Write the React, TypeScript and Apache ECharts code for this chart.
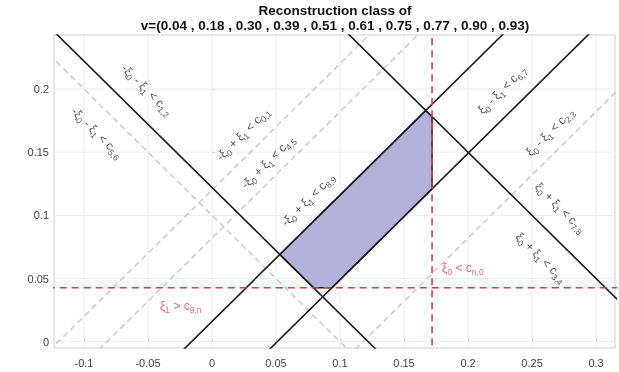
import React, { useEffect, useRef } from "react";
import * as echarts from "echarts";

// reconstruction vector shown in the title
const vValues = [0.04, 0.18, 0.3, 0.39, 0.51, 0.61, 0.75, 0.77, 0.9, 0.93];

// axis ranges and tick labels
const xRange = [-0.1234, 0.3148];
const yRange = [-0.005, 0.2427];
const xTicks = [-0.1, -0.05, 0, 0.05, 0.1, 0.15, 0.2, 0.25, 0.3];
const yTicks = [0, 0.05, 0.1, 0.15, 0.2];

// boundary lines: xi0 + xi1 = c  (descending)  and  xi1 - xi0 = c (ascending)
const blackSumC = [0.122, 0.35];
const blackDiffC = [0.016, -0.051];
const graySumC = [0.1];
const grayDiffC = [0.12, 0.082, -0.118];

// red thresholds
const cN0 = 0.1719; // xi0 < c_{n,0}
const c9N = 0.0427; // xi1 > c_{9,n}

// annotation texts (formatter) and anchors in data coords
const lineLabelTexts = [
  "-{t|ξ}{s|0} - {t|ξ}{s|1} < c{s|1,2}",
  "-{t|ξ}{s|0} - {t|ξ}{s|1} < c{s|5,6}",
  "-{t|ξ}{s|0} + {t|ξ}{s|1} < c{s|0,1}",
  "-{t|ξ}{s|0} + {t|ξ}{s|1} < c{s|4,5}",
  "-{t|ξ}{s|0} + {t|ξ}{s|1} < c{s|8,9}",
  "{t|ξ}{s|0} - {t|ξ}{s|1} < c{s|6,7}",
  "{t|ξ}{s|0} - {t|ξ}{s|1} < c{s|2,3}",
  "{t|ξ}{s|0} + {t|ξ}{s|1} < c{s|7,8}",
  "{t|ξ}{s|0} + {t|ξ}{s|1} < c{s|3,4}",
];
const lineLabelAnchors = [
  [-0.0508, 0.1992],
  [-0.0898, 0.1652],
  [0.0242, 0.1644],
  [0.0438, 0.1423],
  [0.075, 0.1123],
  [0.2266, 0.1992],
  [0.264, 0.166],
  [0.272, 0.106],
  [0.257, 0.0664],
];
const lineLabelRot = [-45, -45, 45, 45, 45, 45, 45, -45, -45];

const redLabelTexts = ["{t|ξ}{s|0} < c{s|n,0}", "{t|ξ}{s|1} > c{s|9,n}"];
const redLabelAnchors = [
  [0.1797, 0.0585],
  [-0.0406, 0.0285],
];

function sumLine(c: number) {
  return [
    [-1, c + 1],
    [1, c - 1],
  ];
}
function diffLine(c: number) {
  return [
    [-1, c - 1],
    [1, c + 1],
  ];
}

export default function App() {
  const ref = useRef<HTMLDivElement>(null);
  useEffect(() => {
    const chart = echarts.init(ref.current!, null, { renderer: "svg" });

    // polygon of the reconstruction class, from line intersections
    const sLo = blackSumC[0];
    const sHi = blackSumC[1];
    const dHi = blackDiffC[0];
    const dLo = blackDiffC[1];
    const poly = [
      [(sLo - dHi) / 2, (sLo + dHi) / 2],
      [sLo - c9N, c9N],
      [c9N - dLo, c9N],
      [cN0, cN0 + dLo],
      [cN0, sHi - cN0],
      [(sHi - dHi) / 2, (sHi + dHi) / 2],
    ];

    const lineSeries = (data: number[][], color: string, dash: any, z: number) => ({
      type: "line",
      data,
      showSymbol: false,
      symbol: "none",
      silent: true,
      clip: true,
      z,
      animation: false,
      lineStyle: { color, width: 1.6, type: dash },
    });

    const rich = {
      t: { fontSize: 12, lineHeight: 17, fontFamily: "Liberation Sans" },
      s: { fontSize: 8.5, lineHeight: 9, verticalAlign: "bottom", fontFamily: "Liberation Sans" },
    };

    const series: any[] = [];
    // grid lines (behind everything)
    series.push({
      type: "custom",
      silent: true,
      z: 1,
      clip: true,
      data: xTicks.map((v) => [v, 0]),
      renderItem: (_p: any, api: any) => {
        const a = api.coord([api.value(0), yRange[0]]);
        const b = api.coord([api.value(0), yRange[1]]);
        return {
          type: "line",
          shape: { x1: a[0], y1: a[1], x2: b[0], y2: b[1] },
          style: { stroke: "#ececec", lineWidth: 1 },
        };
      },
    });
    series.push({
      type: "custom",
      silent: true,
      z: 1,
      clip: true,
      data: yTicks.map((v) => [0, v]),
      renderItem: (_p: any, api: any) => {
        const a = api.coord([xRange[0], api.value(1)]);
        const b = api.coord([xRange[1], api.value(1)]);
        return {
          type: "line",
          shape: { x1: a[0], y1: a[1], x2: b[0], y2: b[1] },
          style: { stroke: "#ececec", lineWidth: 1 },
        };
      },
    });
    graySumC.forEach((c) => series.push(lineSeries(sumLine(c), "#cdcdcd", [6, 4], 2)));
    grayDiffC.forEach((c) => series.push(lineSeries(diffLine(c), "#cdcdcd", [6, 4], 2)));
    series.push({
      type: "custom",
      silent: true,
      z: 3,
      clip: true,
      data: [[0, 0]],
      renderItem: (_p: any, api: any) => ({
        type: "polygon",
        shape: { points: poly.map((p) => api.coord(p)) },
        style: { fill: "#b2b2dd", stroke: "#1a1a1a", lineWidth: 1.4 },
      }),
    });
    blackSumC.forEach((c) => series.push(lineSeries(sumLine(c), "#1a1a1a", "solid", 4)));
    blackDiffC.forEach((c) => series.push(lineSeries(diffLine(c), "#1a1a1a", "solid", 4)));
    series.push(
      lineSeries(
        [
          [cN0, -1],
          [cN0, 1],
        ],
        "#e8353b",
        [7, 5],
        5
      )
    );
    series.push(
      lineSeries(
        [
          [-1, c9N],
          [1, c9N],
        ],
        "#e8353b",
        [7, 5],
        5
      )
    );

    series.push({
      type: "scatter",
      silent: true,
      symbolSize: 0,
      z: 6,
      data: lineLabelAnchors.map((p, i) => ({
        value: p,
        label: { rotate: lineLabelRot[i], formatter: lineLabelTexts[i] },
      })),
      label: {
        show: true,
        position: "inside",
        color: "#2a2a2a",
        fontSize: 12,
        lineHeight: 17,
        fontFamily: "Liberation Sans",
        rich,
      },
    });
    series.push({
      type: "scatter",
      silent: true,
      symbolSize: 0,
      z: 6,
      data: redLabelAnchors.map((p, i) => ({
        value: p,
        label: { formatter: redLabelTexts[i] },
      })),
      label: {
        show: true,
        position: "right",
        distance: 0,
        color: "#e0474d",
        fontSize: 12,
        lineHeight: 17,
        fontFamily: "Liberation Sans",
        rich: {
          t: { ...rich.t, color: "#e0474d" },
          s: { ...rich.s, color: "#e0474d" },
        },
      },
    });

    const axisCommon = {
      type: "value",
      axisLine: { show: false },
      splitLine: { show: false },
      axisTick: { show: true, inside: true, length: 3, lineStyle: { color: "#bbb" } },
    };

    chart.setOption({
      animation: false,
      grid: {
        left: 54,
        top: 35,
        width: 561,
        height: 313,
        show: true,
        borderColor: "#cfcfcf",
        borderWidth: 1,
        backgroundColor: "#fff",
      },
      xAxis: {
        ...axisCommon,
        min: xRange[0],
        max: xRange[1],
        axisTick: { ...axisCommon.axisTick, customValues: xTicks },
        axisLabel: {
          customValues: xTicks,
          color: "#444",
          fontSize: 11,
          fontFamily: "Liberation Sans",
          margin: 9,
          formatter: (v: number) => String(+v.toFixed(3)),
        },
      },
      yAxis: {
        ...axisCommon,
        min: yRange[0],
        max: yRange[1],
        axisTick: { ...axisCommon.axisTick, customValues: yTicks },
        axisLabel: {
          customValues: yTicks,
          color: "#444",
          fontSize: 11,
          fontFamily: "Liberation Sans",
          margin: 5,
          formatter: (v: number) => String(+v.toFixed(3)),
        },
      },
      graphic: [
        {
          type: "text",
          x: 335,
          y: 10,
          style: {
            text: "Reconstruction class of",
            textAlign: "center",
            textVerticalAlign: "middle",
            font: "bold 13.5px 'Liberation Sans'",
            fill: "#111",
          },
        },
        {
          type: "text",
          x: 335,
          y: 25,
          style: {
            text: "v=(" + vValues.map((v) => v.toFixed(2)).join(" , ") + ")",
            textAlign: "center",
            textVerticalAlign: "middle",
            font: "bold 13.5px 'Liberation Sans'",
            fill: "#111",
          },
        },
      ],
      series,
    });
    return () => chart.dispose();
  }, []);
  return (
    <div
      ref={ref}
      style={{ position: "fixed", left: 0, top: 0, width: 619, height: 372 }}
    />
  );
}
